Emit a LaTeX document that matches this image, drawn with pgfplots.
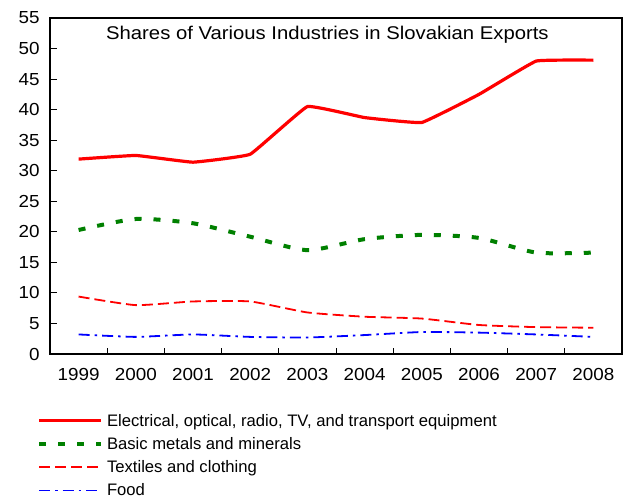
\documentclass[border=0pt]{standalone}
\usepackage{fontspec}
\setmainfont{Liberation Sans}
\newfontfamily\stretchfont[FakeStretch=1.08]{Liberation Sans}
\newfontfamily\titlefont[FakeStretch=1.1]{Liberation Sans}
\usepackage{pgfplots}
\pgfplotsset{compat=1.18}
\definecolor{xlred}{RGB}{255,0,0}
\definecolor{xlgreen}{RGB}{0,128,0}
\definecolor{xlblue}{RGB}{0,0,255}
\begin{document}
\begin{tikzpicture}
\path[use as bounding box] (0,0) rectangle (624bp,499bp);
\begin{axis}[
  at={(50bp,145bp)}, anchor=south west,
  scale only axis, width=572bp, height=336bp,
  xmin=-0.5, xmax=9.5, ymin=0, ymax=55,
  axis line style={line width=1.2bp, black},
  xtick pos=left, ytick pos=left,
  xtick={0,...,9},
  xticklabels={1999,2000,2001,2002,2003,2004,2005,2006,2007,2008},
  major x tick style={draw=none},
  minor x tick num=1,
  minor x tick style={line width=1bp, black},
  minor tick length=6bp,
  ytick={0,5,...,55},
  major tick length=7bp,
  major y tick style={line width=1bp, black},
  tick align=inside,
  ticklabel style={font=\stretchfont\fontsize{17.5}{20}\selectfont},
  /pgf/number format/assume math mode=true,
  yticklabel style={xshift=-7bp},
  xticklabel style={yshift=-11bp},
  legend style={draw=none, fill=none, at={(-0.023,-0.172)}, anchor=north west,
    font=\fontsize{16.7}{19}\selectfont, row sep=5.7bp, inner sep=0pt},
  legend cell align=left,
  legend image code/.code={\draw[#1] (0bp,0bp) -- (62bp,0bp);},
  /tikz/every even column/.append style={column sep=0bp},
  clip=false,
]
\addplot[xlred, line width=3.2bp, smooth, tension=0.15] coordinates {
(0,31.9) (1,32.5) (2,31.4) (3,32.7) (4,40.5) (5,38.7) (6,37.9) (7,42.5) (8,47.95) (9,48.1)};
\addlegendentry{\hspace{2bp}Electrical, optical, radio, TV, and transport equipment}
\addplot[xlgreen, line width=4bp, dash pattern=on 7bp off 12bp, smooth, tension=0.4] coordinates {
(0,20.3) (1,22.1) (2,21.4) (3,19.2) (4,17.0) (5,18.8) (6,19.5) (7,19.0) (8,16.6) (9,16.6)};
\addlegendentry{\hspace{2bp}Basic metals and minerals}
\addplot[xlred, line width=1.8bp, dash pattern=on 11bp off 5bp, smooth, tension=0.3] coordinates {
(0,9.4) (1,8.0) (2,8.6) (3,8.6) (4,6.8) (5,6.1) (6,5.8) (7,4.75) (8,4.4) (9,4.3)};
\addlegendentry{\hspace{2bp}Textiles and clothing}
\addplot[xlblue, line width=1.8bp, dash pattern=on 11bp off 5bp on 2.5bp off 5bp, smooth, tension=0.3] coordinates {
(0,3.2) (1,2.8) (2,3.2) (3,2.8) (4,2.7) (5,3.1) (6,3.6) (7,3.5) (8,3.2) (9,2.8)};
\addlegendentry{\hspace{2bp}Food}
\node[font=\titlefont\fontsize{18.5}{21}\selectfont] at (rel axis cs:0.485,0.949) {Shares of Various Industries in Slovakian Exports};
\end{axis}
\end{tikzpicture}
\end{document}
